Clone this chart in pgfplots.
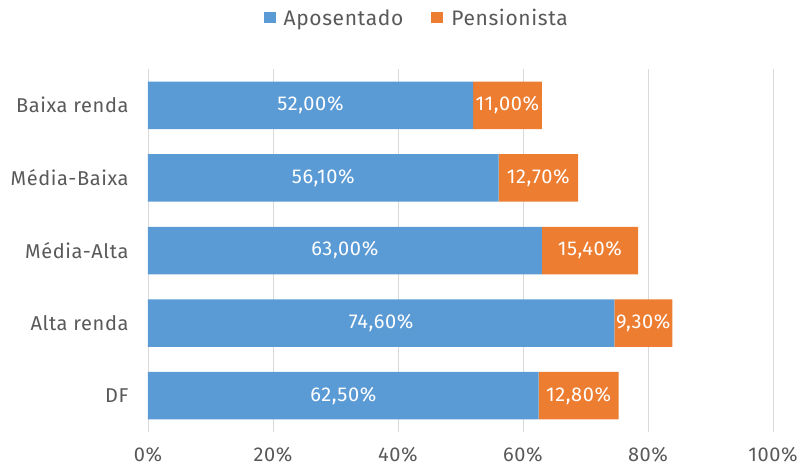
\documentclass[border=0pt]{standalone}
\usepackage{pgfplots}
\pgfplotsset{compat=1.18}
\usepackage{fontspec}
\setmainfont{Fira Sans}[LetterSpace=3]
\definecolor{barblue}{HTML}{5B9BD5}
\definecolor{barorange}{HTML}{ED7D31}
\definecolor{txtgray}{HTML}{595959}
\definecolor{gridgray}{HTML}{D9D9D9}

\begin{document}
\begin{tikzpicture}
\useasboundingbox (-148pt,-37pt) rectangle (657pt,432pt);
\begin{axis}[
  xbar stacked, scale only axis, width=625pt, height=363pt,
  xmin=0, xmax=100, ymin=-0.5, ymax=4.5,
  bar width=47.5pt,
  ytick={0,1,2,3,4},
  yticklabels={DF,Alta renda,Média-Alta,Média-Baixa,Baixa renda},
  xtick={0,20,...,100},
  xticklabels={0\%,20\%,40\%,60\%,80\%,100\%},
  xmajorgrids, grid style={gridgray, line width=0.8pt},
  axis line style={draw=none}, major tick length=0pt,
  tick label style={font=\fontsize{20}{24}\selectfont, text=txtgray},
  yticklabel style={xshift=-16pt},
  xticklabel style={yshift=-12pt},
  nodes near coords, point meta=explicit symbolic,
  every node near coord/.append style={font=\fontsize{20}{24}\selectfont, text=white,
    anchor=center},
  legend style={at={(0.430,1.1405)}, anchor=center, draw=none, legend columns=2,
    font=\fontsize{21}{25}\selectfont, text=txtgray,
    /tikz/every odd column/.append style={column sep=6pt},
    /tikz/every even column/.append style={column sep=26pt}},
  legend image code/.code={\fill[#1] (0pt,-5.5pt) rectangle (12pt,6pt);},
]
\addplot[fill=barblue, draw=none] coordinates {
  (62.5,0) [62,50\%]
  (74.6,1) [74,60\%]
  (63.0,2) [63,00\%]
  (56.1,3) [56,10\%]
  (52.0,4) [52,00\%]
};
\addplot[fill=barorange, draw=none] coordinates {
  (12.8,0) [12,80\%]
  (9.3,1) [9,30\%]
  (15.4,2) [15,40\%]
  (12.7,3) [12,70\%]
  (11.0,4) [11,00\%]
};
\legend{Aposentado,Pensionista}
\end{axis}
\end{tikzpicture}
\end{document}
